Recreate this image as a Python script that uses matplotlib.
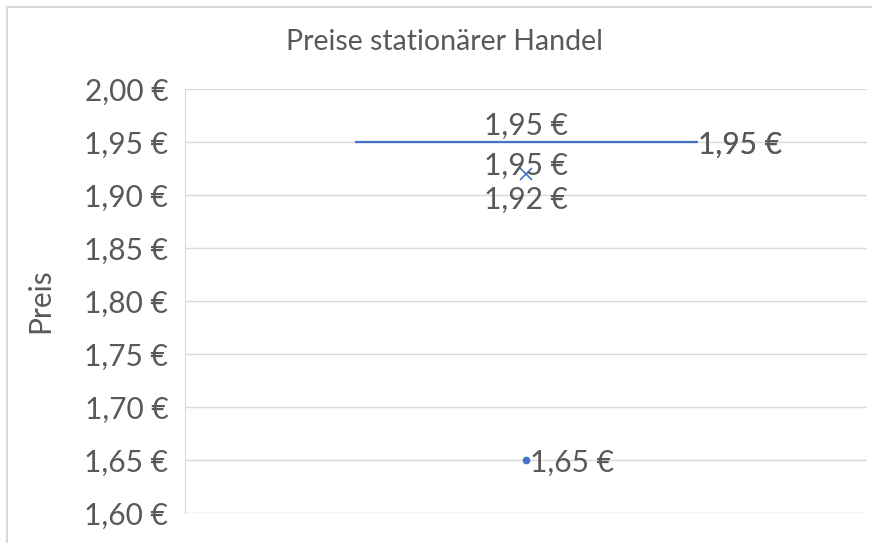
import numpy as np
import matplotlib.pyplot as plt
from matplotlib.lines import Line2D
from matplotlib.ticker import FuncFormatter

# Preise (10 Werte): 1 Ausreisser, Rest 1,95 EUR
preise = [1.65, 1.95, 1.95, 1.95, 1.95, 1.95, 1.95, 1.95, 1.95, 1.95]
y_ticks = [1.60, 1.65, 1.70, 1.75, 1.80, 1.85, 1.90, 1.95, 2.00]

blau = '#4472C4'
grau = '#595959'
hell = '#D9D9D9'
fs = 21.5  # Schriftgroesse

plt.rcParams['font.family'] = ['Lato', 'DejaVu Sans']


def euro(v, pos=None):
    return '{:.2f} €'.format(v).replace('.', ',')


fig = plt.figure(figsize=(8.72, 5.43), dpi=100)
ax = fig.add_axes([0.2122, 0.0552, 0.7821, 0.7809])

bp = ax.boxplot(preise, positions=[1], widths=0.5, showmeans=True,
                whis=1.5, patch_artist=False,
                boxprops=dict(color=blau, linewidth=1.5),
                medianprops=dict(color=blau, linewidth=1.5),
                whiskerprops=dict(color=blau, linewidth=1.5),
                capprops=dict(color=blau, linewidth=0),
                meanprops=dict(marker='x', markeredgecolor=blau,
                               markersize=9, markeredgewidth=1.2),
                flierprops=dict(marker='o', markerfacecolor=blau,
                                markeredgecolor=blau, markersize=4.5))

# Kennwerte fuer Beschriftung
q1, med, q3 = np.percentile(preise, [25, 50, 75])
mittel = np.mean(preise)
iqr = q3 - q1
innen = [p for p in preise if q1 - 1.5 * iqr <= p <= q3 + 1.5 * iqr]
ausreisser = [p for p in preise if p not in innen]
maximum = max(innen)

kw = dict(textcoords='offset points', fontsize=fs, color=grau)
ax.annotate(euro(q3), (1, q3), xytext=(0, 12), ha='center', va='center', **kw)
ax.annotate(euro(med), (1, med), xytext=(0, -17), ha='center', va='center', **kw)
ax.annotate(euro(mittel), (1, mittel), xytext=(0, -19), ha='center', va='center', **kw)
for _ in range(2):
    ax.annotate(euro(maximum), (1.25, maximum), xytext=(1, -2),
                ha='left', va='center', **kw)
for p in ausreisser:
    ax.annotate(euro(p), (1, p), xytext=(3, -2), ha='left', va='center', **kw)

ax.set_xlim(0.5, 1.5)
ax.set_ylim(1.60, 2.00)
ax.set_yticks(y_ticks)
ax.yaxis.set_major_formatter(FuncFormatter(euro))
ax.set_xticks([])
ax.tick_params(axis='y', length=0, pad=12, labelsize=fs, labelcolor=grau)
ax.grid(axis='y', color=hell, linewidth=1)
ax.set_axisbelow(True)
for s in ['top', 'right', 'bottom']:
    ax.spines[s].set_visible(False)
ax.spines['left'].set_color(hell)

fig.text(0.046, 0.4457, 'Preis', rotation=90, ha='center', va='center',
         fontsize=fs, color=grau)
fig.text(0.51, 0.922, 'Preise stationärer Handel', ha='center', va='center',
         fontsize=20.5, color=grau)

# Rahmen des Diagramms
fig.add_artist(Line2D([0.008, 0.008], [0, 0.987], color=hell, linewidth=1.5,
                      transform=fig.transFigure))
fig.add_artist(Line2D([0.008, 1], [0.987, 0.987], color=hell, linewidth=1.5,
                      transform=fig.transFigure))

fig.savefig('out.png', dpi=100)
